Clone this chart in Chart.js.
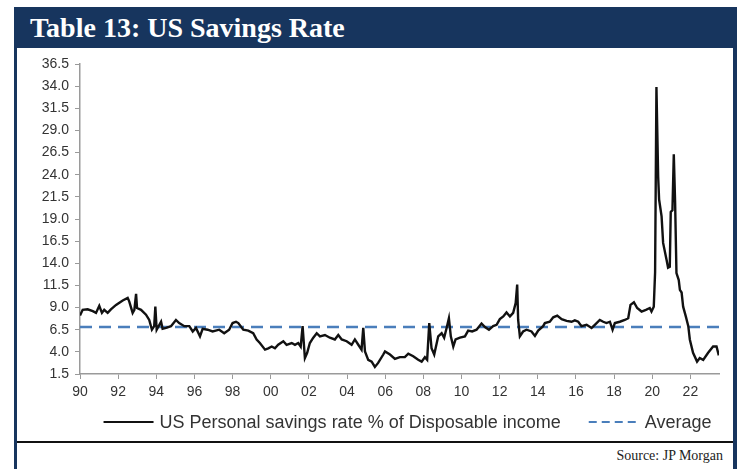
<!DOCTYPE html>
<html>
<head>
<meta charset="utf-8">
<script src="https://cdn.jsdelivr.net/npm/chart.js@4.4.0/dist/chart.umd.min.js"></script>
<style>
  body { margin: 0; background: #fff; width: 742px; height: 469px; overflow: hidden; position: relative; font-family: "Liberation Sans", Arial, sans-serif; }
  .navy { position: absolute; background: #17355e; }
  #title { left: 14px; top: 7px; width: 723px; height: 41px; color: #fff; font-family: "Liberation Serif", serif; font-weight: bold; font-size: 28px; line-height: 42px; padding-left: 16px; box-sizing: border-box; }
  #chartBox { position: absolute; left: 17px; top: 48px; width: 716px; height: 395px; }
  #rule { position: absolute; left: 17px; top: 441px; width: 716px; height: 2px; background: #111; }
  #source { position: absolute; right: 19px; top: 448px; font-family: "Liberation Serif", serif; font-size: 14px; color: #222; }
</style>
</head>
<body>
<div class="navy" id="title">Table 13: US Savings Rate</div>
<div class="navy" style="left:14px; top:7px; width:3px; height:470px;"></div>
<div class="navy" style="left:733px; top:7px; width:4px; height:470px;"></div>
<div id="chartBox"><canvas id="savingsChart" width="716" height="395"></canvas></div>
<div id="rule"></div>
<div id="source">Source: JP Morgan</div>

<script>
// Data: decimal year, personal savings rate (%)
const years = [
  1990.00, 1990.14, 1990.40, 1990.67, 1990.84, 1991.01, 1991.15, 1991.27, 1991.45, 1991.62,
  1991.89, 1992.24, 1992.50, 1992.58, 1992.76, 1992.85, 1992.94, 1992.99, 1993.20, 1993.46,
  1993.63, 1993.77, 1993.89, 1993.95, 1994.02, 1994.25, 1994.33, 1994.51, 1994.77, 1995.03,
  1995.20, 1995.47, 1995.73, 1995.91, 1996.08, 1996.29, 1996.43, 1996.69, 1996.95, 1997.30,
  1997.56, 1997.82, 1998.00, 1998.18, 1998.30, 1998.56, 1998.82, 1999.08, 1999.26, 1999.43,
  1999.70, 1999.87, 2000.05, 2000.22, 2000.39, 2000.66, 2000.83, 2001.10, 2001.27, 2001.44,
  2001.57, 2001.67, 2001.79, 2001.91, 2002.05, 2002.23, 2002.41, 2002.58, 2002.84, 2003.10,
  2003.36, 2003.54, 2003.72, 2003.98, 2004.24, 2004.41, 2004.59, 2004.76, 2004.85, 2004.94,
  2005.11, 2005.29, 2005.46, 2005.63, 2005.90, 2005.99, 2006.25, 2006.51, 2006.77, 2007.03,
  2007.21, 2007.47, 2007.73, 2007.91, 2008.08, 2008.20, 2008.31, 2008.43, 2008.57, 2008.78,
  2008.96, 2009.09, 2009.22, 2009.34, 2009.44, 2009.57, 2009.69, 2009.92, 2010.18, 2010.35,
  2010.56, 2010.79, 2011.05, 2011.23, 2011.44, 2011.66, 2011.84, 2012.01, 2012.19, 2012.36,
  2012.54, 2012.71, 2012.84, 2012.92, 2012.97, 2013.06, 2013.23, 2013.41, 2013.67, 2013.85,
  2014.02, 2014.28, 2014.37, 2014.63, 2014.81, 2015.02, 2015.25, 2015.51, 2015.77, 2015.94,
  2016.12, 2016.29, 2016.56, 2016.82, 2016.99, 2017.25, 2017.43, 2017.60, 2017.78, 2017.92,
  2018.04, 2018.30, 2018.56, 2018.74, 2018.86, 2019.04, 2019.21, 2019.44, 2019.67, 2019.87,
  2019.96, 2020.08, 2020.15, 2020.22, 2020.31, 2020.36, 2020.49, 2020.57, 2020.75, 2020.83,
  2020.92, 2020.97, 2021.06, 2021.13, 2021.20, 2021.27, 2021.39, 2021.45, 2021.54, 2021.62,
  2021.76, 2021.89, 2021.97, 2022.14, 2022.35, 2022.49, 2022.67, 2022.93, 2023.19, 2023.37,
  2023.49
];
const savingsRate = [
  8.1, 8.75, 8.8, 8.6, 8.4, 9.2, 8.4, 8.75, 8.4, 8.8,
  9.3, 9.8, 10.1, 9.7, 8.4, 8.75, 10.55, 8.95, 8.75, 8.2,
  7.6, 6.5, 6.9, 9.1, 6.5, 7.4, 6.6, 6.7, 6.9, 7.6,
  7.25, 6.9, 6.9, 6.3, 6.7, 5.75, 6.6, 6.5, 6.3, 6.5,
  6.1, 6.5, 7.25, 7.4, 7.25, 6.5, 6.4, 6.1, 5.4, 5.0,
  4.25, 4.4, 4.6, 4.4, 4.8, 5.2, 4.8, 5.0, 4.8, 5.0,
  4.6, 6.9, 3.3, 3.9, 5.0, 5.6, 6.1, 5.75, 5.9, 5.6,
  5.4, 5.9, 5.4, 5.2, 4.8, 5.4, 4.8, 4.25, 6.7, 4.05,
  3.1, 2.9, 2.3, 2.75, 3.7, 4.05, 3.7, 3.2, 3.4, 3.4,
  3.8, 3.5, 3.1, 2.9, 3.4, 3.1, 7.25, 4.4, 3.7, 5.75,
  6.1, 5.6, 6.7, 7.8, 5.75, 4.6, 5.4, 5.6, 5.75, 6.4,
  6.3, 6.5, 7.2, 6.8, 6.5, 6.9, 7.05, 7.7, 8.0, 8.45,
  8.0, 8.4, 9.5, 11.6, 7.6, 5.75, 6.3, 6.5, 6.3, 5.8,
  6.4, 6.9, 7.25, 7.4, 7.9, 8.1, 7.7, 7.5, 7.4, 7.55,
  7.4, 6.9, 7.05, 6.7, 7.05, 7.6, 7.4, 7.25, 7.4, 6.5,
  7.25, 7.4, 7.6, 7.8, 9.3, 9.6, 8.95, 8.55, 8.75, 8.95,
  8.55, 9.1, 13.0, 33.9, 23.8, 21.2, 19.3, 16.3, 14.4, 13.5,
  13.6, 19.8, 20.0, 26.3, 20.8, 12.9, 12.1, 11.0, 10.7, 9.1,
  8.0, 6.9, 5.4, 3.9, 2.9, 3.3, 3.1, 3.9, 4.6, 4.6,
  3.6
];
const averageRate = 6.8;
const xRange = [1990, 2023.5];
const xTickLabels = ['90', '92', '94', '96', '98', '00', '02', '04', '06', '08', '10', '12', '14', '16', '18', '20', '22'];
const yTickLabels = ['1.5', '4.0', '6.5', '9.0', '11.5', '14.0', '16.5', '19.0', '21.5', '24.0', '26.5', '29.0', '31.5', '34.0', '36.5'];

const axisGray = '#9a9a9a';
const textGray = '#333';

// legend drawn under the x axis: short line sample then the label
const lineLegend = {
  id: 'lineLegend',
  afterDraw(chart) {
    const ctx = chart.ctx;
    const area = chart.chartArea;
    const font = '18px "Liberation Sans", Arial, sans-serif';
    const sample = 50, gapText = 6, gapItem = 28;
    ctx.save();
    ctx.font = font;
    const items = chart.data.datasets.map(ds => ({ ds, w: sample + gapText + ctx.measureText(ds.label).width }));
    const total = items.reduce((s, it) => s + it.w, 0) + gapItem * (items.length - 1);
    let x = (area.left + area.right) / 2 + 8 - total / 2;
    const y = area.bottom + 48;
    items.forEach(it => {
      ctx.beginPath();
      ctx.strokeStyle = it.ds.borderColor;
      ctx.lineWidth = 2;
      ctx.setLineDash(it.ds.borderDash ? [8, 5] : []);
      ctx.moveTo(x, y);
      ctx.lineTo(x + sample, y);
      ctx.stroke();
      ctx.setLineDash([]);
      ctx.fillStyle = textGray;
      ctx.textBaseline = 'middle';
      ctx.fillText(it.ds.label, x + sample + gapText, y + 1);
      x += it.w + gapItem;
    });
    ctx.restore();
  }
};

const chart = new Chart(document.getElementById('savingsChart'), {
  type: 'line',
  data: {
    datasets: [
      {
        label: 'US Personal savings rate % of Disposable income',
        data: years.map((yr, i) => ({ x: yr, y: savingsRate[i] })),
        borderColor: '#111',
        backgroundColor: '#111',
        borderWidth: 2.4,
        pointRadius: 0,
        tension: 0
      },
      {
        label: 'Average',
        data: xRange.map(yr => ({ x: yr, y: averageRate })),
        borderColor: '#4a7ebb',
        backgroundColor: '#4a7ebb',
        borderWidth: 2.5,
        borderDash: [12, 7],
        pointRadius: 0
      }
    ]
  },
  options: {
    responsive: false,
    animation: false,
    layout: { padding: { top: 16, right: 14, bottom: 43, left: 0 } },
    scales: {
      x: {
        type: 'linear',
        min: xRange[0],
        max: xRange[1],
        afterBuildTicks: s => { s.ticks = xTickLabels.map((t, i) => ({ value: xRange[0] + 2 * i })); },
        afterFit: s => { s.height = 26; },
        ticks: {
          callback: (v, i) => xTickLabels[i],
          color: textGray,
          font: { family: 'Liberation Sans', size: 14 },
          padding: 5,
          maxRotation: 0
        },
        grid: { drawOnChartArea: false, color: axisGray, tickLength: 5 },
        border: { color: axisGray, width: 1.5 }
      },
      y: {
        min: 1.5,
        max: 36.5,
        afterBuildTicks: s => { s.ticks = yTickLabels.map(t => ({ value: parseFloat(t) })); },
        afterFit: s => { s.width = 63; },
        ticks: {
          callback: (v, i) => yTickLabels[i],
          color: textGray,
          font: { family: 'Liberation Sans', size: 14 },
          padding: 6
        },
        grid: { drawOnChartArea: false, color: axisGray, tickLength: 5 },
        border: { color: axisGray, width: 1.5 }
      }
    },
    plugins: {
      tooltip: { enabled: false },
      legend: { display: false }
    }
  },
  plugins: [lineLegend]
});
</script>
</body>
</html>
